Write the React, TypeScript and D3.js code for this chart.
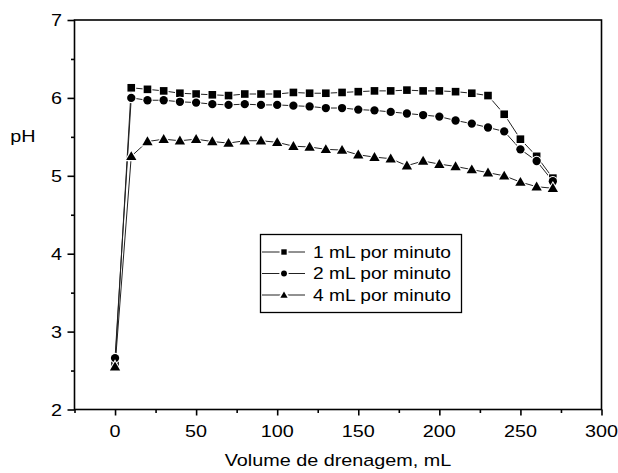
import React, { useEffect, useRef } from "react";
import * as d3 from "d3";

const xValues = [0, 10, 20, 30, 40, 50, 60, 70, 80, 90, 100, 110, 120, 130, 140, 150, 160, 170, 180, 190, 200, 210, 220, 230, 240, 250, 260, 270];
const series1 = [2.58, 6.13, 6.11, 6.09, 6.06, 6.05, 6.04, 6.03, 6.05, 6.05, 6.05, 6.07, 6.06, 6.06, 6.07, 6.08, 6.09, 6.09, 6.10, 6.09, 6.09, 6.08, 6.06, 6.03, 5.79, 5.47, 5.25, 4.97];
const series2 = [2.66, 6.00, 5.97, 5.97, 5.95, 5.94, 5.92, 5.91, 5.92, 5.91, 5.91, 5.90, 5.89, 5.87, 5.87, 5.85, 5.84, 5.82, 5.80, 5.78, 5.76, 5.71, 5.67, 5.62, 5.57, 5.34, 5.19, 4.93];
const series3 = [2.55, 5.25, 5.44, 5.47, 5.45, 5.47, 5.44, 5.42, 5.45, 5.45, 5.43, 5.38, 5.37, 5.34, 5.33, 5.27, 5.24, 5.22, 5.13, 5.19, 5.15, 5.12, 5.08, 5.04, 5.00, 4.92, 4.86, 4.84];
const seriesNames = ["1 mL por minuto", "2 mL por minuto", "4 mL por minuto"];
const seriesSymbols = ["square", "circle", "triangle"];
const xTicks = [0, 50, 100, 150, 200, 250, 300];
const xMinor = [-25, 25, 75, 125, 175, 225, 275];
const yTicks = [2, 3, 4, 5, 6, 7];
const yMinor = [2.5, 3.5, 4.5, 5.5, 6.5];

const W = 618, H = 473;
const m = { left: 74.5, right: 601.5, top: 20, bottom: 409.5 };
const FONT = "'Liberation Sans', Arial, sans-serif";
const STRETCH = 1.2;

export default function App() {
  const ref = useRef<SVGSVGElement | null>(null);
  useEffect(() => {
    const svg = d3.select(ref.current);
    svg.selectAll("*").remove();
    const x = d3.scaleLinear().domain([-25, 300]).range([m.left, m.right]);
    const y = d3.scaleLinear().domain([2, 7]).range([m.bottom, m.top]);

    const txt = (px: number, py: number, s: string, anchor: string, size: number, baseline = "auto") => {
      svg.append("g").attr("transform", `translate(${px},${py}) scale(${STRETCH},1)`)
        .append("text").attr("x", 0).attr("y", 0).attr("text-anchor", anchor)
        .attr("dominant-baseline", baseline)
        .attr("font-family", FONT).attr("font-size", size).attr("fill", "#000").text(s);
    };

    const symType: Record<string, d3.SymbolType> = {
      square: d3.symbolSquare,
      circle: d3.symbolCircle,
      triangle: d3.symbolTriangle,
    };
    const symSize: Record<string, number> = { square: 58, circle: 54, triangle: 46 };

    // frame
    svg.append("rect").attr("x", m.left).attr("y", m.top)
      .attr("width", m.right - m.left).attr("height", m.bottom - m.top)
      .attr("fill", "none").attr("stroke", "#000").attr("stroke-width", 1.6);

    // x axis ticks
    const xa = svg.append("g").attr("transform", `translate(0,${m.bottom})`)
      .call(d3.axisBottom(x).tickValues(xTicks).tickSize(6).tickFormat(() => ""));
    xa.select(".domain").remove();
    xa.selectAll("line").attr("stroke", "#000").attr("stroke-width", 1.6);
    const xm = svg.append("g").attr("transform", `translate(0,${m.bottom})`)
      .call(d3.axisBottom(x).tickValues(xMinor).tickSize(3.5).tickFormat(() => ""));
    xm.select(".domain").remove();
    xm.selectAll("line").attr("stroke", "#000").attr("stroke-width", 1.6);
    xTicks.forEach((t) => txt(x(t), 437, String(t), "middle", 16.5));

    // y axis ticks
    const ya = svg.append("g").attr("transform", `translate(${m.left},0)`)
      .call(d3.axisLeft(y).tickValues(yTicks).tickSize(7).tickFormat(() => ""));
    ya.select(".domain").remove();
    ya.selectAll("line").attr("stroke", "#000").attr("stroke-width", 1.6);
    const ym = svg.append("g").attr("transform", `translate(${m.left},0)`)
      .call(d3.axisLeft(y).tickValues(yMinor).tickSize(3.5).tickFormat(() => ""));
    ym.select(".domain").remove();
    ym.selectAll("line").attr("stroke", "#000").attr("stroke-width", 1.6);
    yTicks.forEach((t) => txt(62, y(t) + 6, String(t), "end", 16.5));

    // titles
    txt(23, 142, "pH", "middle", 16.5);
    txt((m.left + m.right) / 2, 466, "Volume de drenagem, mL", "middle", 16.5);

    const allSeries = [series1, series2, series3];
    const line = d3.line<number>().x((_, i) => x(xValues[i])).y((d) => y(d));

    allSeries.forEach((s) => {
      svg.append("path").datum(s).attr("d", line).attr("fill", "none")
        .attr("stroke", "#222").attr("stroke-width", 1);
    });
    allSeries.forEach((s, k) => {
      const sym = seriesSymbols[k];
      svg.append("g").selectAll("path").data(s).join("path")
        .attr("transform", (d, i) => `translate(${x(xValues[i])},${y(d) + (sym === "triangle" ? 0.8 : 0)})`)
        .attr("d", d3.symbol().type(symType[sym]).size(symSize[sym])())
        .attr("fill", "#000").attr("stroke", "#fff").attr("stroke-width", 2.2)
        .attr("paint-order", "stroke");
    });

    // legend
    const lg = svg.append("g");
    lg.append("rect").attr("x", 260.5).attr("y", 234.5).attr("width", 201).attr("height", 78)
      .attr("fill", "#fff").attr("stroke", "#000").attr("stroke-width", 1.3);
    const rowY = [252, 273.5, 295];
    seriesNames.forEach((name, k) => {
      const yy = rowY[k];
      lg.append("line").attr("x1", 262).attr("x2", 305).attr("y1", yy).attr("y2", yy)
        .attr("stroke", "#222").attr("stroke-width", 1);
      const sym = seriesSymbols[k];
      lg.append("path").attr("transform", `translate(284,${yy + (sym === "triangle" ? 0.6 : 0)})`)
        .attr("d", d3.symbol().type(symType[sym]).size(symSize[sym] * 0.5)())
        .attr("fill", "#000").attr("stroke", "#fff").attr("stroke-width", 3.5).attr("paint-order", "stroke");
      txt(313, yy + 5.8, name, "start", 16);
    });
  }, []);
  return (
    <svg ref={ref} width={W} height={H} style={{ position: "absolute", left: 0, top: 0, background: "#fff" }} />
  );
}
